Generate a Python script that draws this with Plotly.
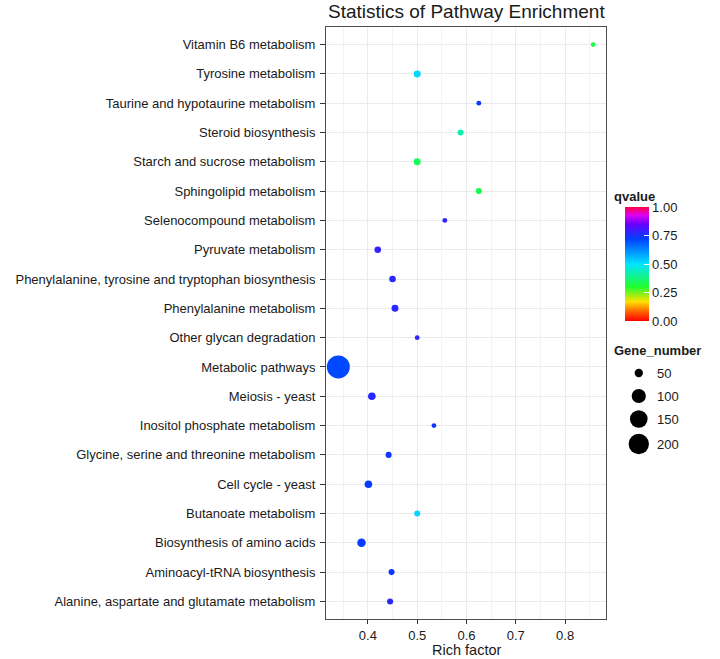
import plotly.graph_objects as go
import math

# ---------------- data ----------------
pathways = [
    "Alanine, aspartate and glutamate metabolism",
    "Aminoacyl-tRNA biosynthesis",
    "Biosynthesis of amino acids",
    "Butanoate metabolism",
    "Cell cycle - yeast",
    "Glycine, serine and threonine metabolism",
    "Inositol phosphate metabolism",
    "Meiosis - yeast",
    "Metabolic pathways",
    "Other glycan degradation",
    "Phenylalanine metabolism",
    "Phenylalanine, tyrosine and tryptophan biosynthesis",
    "Pyruvate metabolism",
    "Selenocompound metabolism",
    "Sphingolipid metabolism",
    "Starch and sucrose metabolism",
    "Steroid biosynthesis",
    "Taurine and hypotaurine metabolism",
    "Tyrosine metabolism",
    "Vitamin B6 metabolism",
]
rich_factor = [0.445, 0.448, 0.387, 0.500, 0.401, 0.442, 0.534, 0.408, 0.340, 0.500,
               0.455, 0.450, 0.420, 0.556, 0.625, 0.500, 0.588, 0.625, 0.500, 0.857]
qvalue = [0.77, 0.74, 0.73, 0.52, 0.73, 0.74, 0.74, 0.77, 0.71, 0.78,
          0.77, 0.77, 0.78, 0.78, 0.33, 0.34, 0.42, 0.73, 0.52, 0.33]
gene_number = [43, 43, 51, 43, 47, 43, 42, 47, 259, 42,
               45, 44, 44, 42, 43, 45, 43, 42, 45, 42]

size_breaks = [50, 100, 150, 200]
q_ticks = [0.0, 0.25, 0.5, 0.75, 1.0]
x_ticks = [0.4, 0.5, 0.6, 0.7, 0.8]

# ---------------- helpers ----------------
gmin, gmax = min(gene_number), max(gene_number)


def diam(v):
    # ggplot2-like area scale, range c(1, 6)
    frac = max(0.0, (v - gmin) / (gmax - gmin))
    s = 1 + 5 * math.sqrt(frac)
    return (s * 2.845 + 0.945) * 1.276


colorscale = [
    [0.0, "#FF0000"], [0.08, "#FF6000"], [0.17, "#FFE000"], [0.30, "#20FF30"],
    [0.50, "#00E5FF"], [0.72, "#0040FF"], [0.85, "#6A00FF"], [0.93, "#E000F0"],
    [1.0, "#FF0040"],
]

W, H = 720, 659
ML, MR, MT, MB = 326, 5, 27, 40
pw = W - ML - MR
ph = H - MT - MB
plot_right = 606


def px_x(x):
    """screen x pixel -> paper coordinate"""
    return (x - ML) / pw


def px_y(y):
    """screen y pixel -> paper coordinate"""
    return (H - MB - y) / ph


txt = "#1a1a1a"
font = "Liberation Sans, Arial, Helvetica, sans-serif"

fig = go.Figure()
fig.add_trace(go.Scatter(
    x=rich_factor, y=pathways, mode="markers",
    marker=dict(
        size=[diam(g) for g in gene_number],
        color=qvalue, cmin=0, cmax=1, colorscale=colorscale,
        line=dict(width=0), opacity=1,
        showscale=True,
        colorbar=dict(
            x=px_x(625), xanchor="left", xpad=0,
            y=px_y(264), yanchor="middle", ypad=0,
            len=114, lenmode="pixels", thickness=24,
            outlinewidth=0,
            tickvals=q_ticks, ticktext=[f"{t:.2f}" for t in q_ticks],
            ticks="inside", ticklen=5, tickcolor="white", tickwidth=1,
            tickfont=dict(size=13, color=txt, family=font),
        ),
    ),
    hoverinfo="x+y", showlegend=False, xaxis="x", yaxis="y",
))

# size legend (drawn on a hidden helper axis)
key_y = [87, 64, 41, 16]
fig.add_trace(go.Scatter(
    x=[0.26] * len(size_breaks), y=key_y, mode="markers",
    marker=dict(size=[diam(v) for v in size_breaks], color="#000000", opacity=1,
                line=dict(width=0)),
    showlegend=False, hoverinfo="skip", xaxis="x2", yaxis="y2",
))
for v, ky in zip(size_breaks, key_y):
    fig.add_annotation(x=0.42, y=ky, xref="x2", yref="y2", text=str(v), showarrow=False,
                       xanchor="left", yanchor="middle",
                       font=dict(size=13, color=txt, family=font))

main_dom = [0, px_x(plot_right)]
fig.update_layout(
    width=W, height=H,
    margin=dict(l=ML, r=MR, t=MT, b=MB, autoexpand=False),
    paper_bgcolor="white", plot_bgcolor="white",
    font=dict(family=font, color=txt),
    xaxis=dict(
        domain=main_dom, range=[0.315, 0.883],
        tickvals=x_ticks, ticktext=[str(t) for t in x_ticks],
        showgrid=True, gridcolor="#EBEBEB", gridwidth=1,
        minor=dict(tick0=0.35, dtick=0.1, showgrid=True, gridcolor="#F4F4F4", gridwidth=1, ticks=""),
        showline=True, mirror=True, linecolor="#4d4d4d", linewidth=1,
        ticks="outside", ticklen=4, tickcolor="#333333", tickwidth=1,
        tickfont=dict(size=13, color=txt), zeroline=False,
    ),
    yaxis=dict(
        domain=[0, 1], type="category", categoryorder="array", categoryarray=pathways,
        range=[-0.6, len(pathways) - 0.4],
        showgrid=True, gridcolor="#EBEBEB", gridwidth=1,
        showline=True, mirror=True, linecolor="#4d4d4d", linewidth=1,
        ticks="outside", ticklen=5, tickcolor="#333333", tickwidth=1,
        tickfont=dict(size=13, color=txt), ticklabelstandoff=2,
    ),
    xaxis2=dict(domain=[px_x(612), 1.0], range=[0, 1], visible=False, fixedrange=True),
    yaxis2=dict(domain=[px_y(460), px_y(355)], range=[0, 105], visible=False, fixedrange=True,
                anchor="x2"),
)

# titles
cx = px_x((326 + plot_right) / 2)
fig.add_annotation(x=cx, y=px_y(12), xref="paper", yref="paper",
                   text="Statistics of Pathway Enrichment", showarrow=False,
                   xanchor="center", yanchor="middle", font=dict(size=19, color=txt, family=font))
fig.add_annotation(x=cx, y=px_y(658.5), xref="paper", yref="paper",
                   text="Rich factor", showarrow=False, borderpad=0,
                   xanchor="center", yanchor="bottom", font=dict(size=14.5, color=txt, family=font))
fig.add_annotation(x=px_x(612), y=px_y(196), xref="paper", yref="paper",
                   text="<b>qvalue</b>", showarrow=False,
                   xanchor="left", yanchor="middle", font=dict(size=13, color=txt, family=font))
fig.add_annotation(x=px_x(612), y=px_y(350), xref="paper", yref="paper",
                   text="<b>Gene_number</b>", showarrow=False,
                   xanchor="left", yanchor="middle", font=dict(size=13, color=txt, family=font))

# remove the browser's default 8px page margin so the figure fills the window
fig.write_html("out.html", config={"displayModeBar": False},
               post_script="document.body.style.margin='0';")
